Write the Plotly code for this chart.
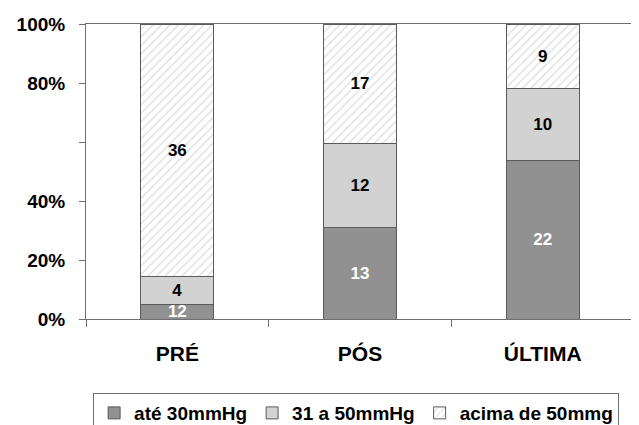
import plotly.graph_objects as go

categories = ["PRÉ", "PÓS", "ÚLTIMA"]
series_names = ["até 30mmHg", "31 a 50mmHg", "acima de 50mmg"]
ate30 = [2, 13, 22]
de31a50 = [4, 12, 10]
acima50 = [36, 17, 9]
# labels as printed on the chart
ate30_labels = ["12", "13", "22"]
de31a50_labels = ["4", "12", "10"]
acima50_labels = ["36", "17", "9"]
y_ticks = [0, 20, 40, 60, 80, 100]
y_ticktext = ["0%", "20%", "40%", "", "80%", "100%"]

FONT = "Liberation Sans, Arial, sans-serif"
EDGE = "#5a5a5a"
AXIS = "#6e6e6e"

fig = go.Figure()
fig.add_trace(go.Bar(
    x=categories, y=ate30, name=series_names[0], text=ate30_labels,
    texttemplate="%{text}", textposition="inside", insidetextanchor="middle",
    textangle=0,
    textfont=dict(color="white", size=17, family=FONT, weight="bold"),
    marker=dict(color="#919191", line=dict(color=EDGE, width=1)),
))
fig.add_trace(go.Bar(
    x=categories, y=de31a50, name=series_names[1], text=de31a50_labels,
    texttemplate="%{text}", textposition="inside", insidetextanchor="middle",
    textangle=0,
    textfont=dict(color="black", size=17, family=FONT, weight="bold"),
    marker=dict(color="#d2d2d2", line=dict(color=EDGE, width=1)),
))
fig.add_trace(go.Bar(
    x=categories, y=acima50, name=series_names[2], text=acima50_labels,
    texttemplate="%{text}", textposition="inside", insidetextanchor="middle",
    textangle=0,
    textfont=dict(color="black", size=17, family=FONT, weight="bold"),
    marker=dict(color="white", line=dict(color=EDGE, width=1),
                pattern=dict(shape="/", fgcolor="#c4c4c4", bgcolor="white",
                             size=6, solidity=0.25)),
))

fig.update_layout(
    barmode="stack", barnorm="percent", bargap=0.6,
    width=631, height=417,
    margin=dict(l=78, r=5, t=16, b=106, autoexpand=False),
    paper_bgcolor="white", plot_bgcolor="white",
    font=dict(family=FONT, color="black", size=19, weight="bold"),
    uniformtext=dict(minsize=17, mode="show"),
    showlegend=True,
    legend=dict(
        orientation="h", x=0.013, xanchor="left", y=-0.251, yanchor="top",
        bordercolor=AXIS, borderwidth=1,
        font=dict(size=19, family=FONT, weight="bold"),
        traceorder="normal", itemwidth=30,
    ),
    hovermode=False,
)
fig.update_xaxes(
    automargin=False,
    showline=True, linecolor=AXIS, linewidth=1, mirror=True,
    ticks="outside", tickson="boundaries", ticklen=7, tickcolor=AXIS,
    tickfont=dict(size=21, family=FONT, weight="bold"),
    ticklabelstandoff=16, showgrid=False,
)
fig.update_yaxes(
    automargin=False,
    range=[0, 100], tickvals=y_ticks, ticktext=y_ticktext,
    showline=True, linecolor=AXIS, linewidth=1, mirror=True,
    ticks="outside", ticklen=6, tickcolor=AXIS,
    tickfont=dict(size=19, family=FONT, weight="bold"),
    ticklabelstandoff=10, showgrid=False, zeroline=False,
)

fig.write_html("out.html")
